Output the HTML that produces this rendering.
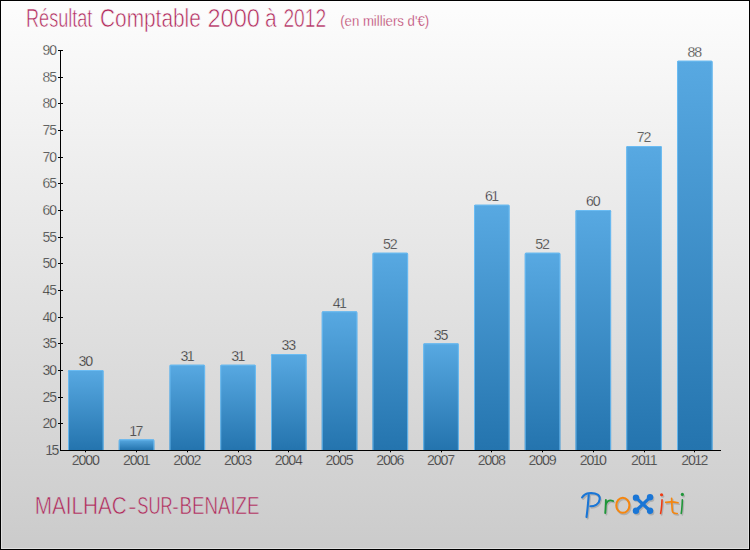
<!DOCTYPE html>
<html><head><meta charset="utf-8">
<style>
html,body{margin:0;padding:0;}
body{width:750px;height:550px;overflow:hidden;}
svg{display:block;}
text{font-family:"Liberation Sans",sans-serif;}
.yl{font-size:14px;fill:#202020;}
.vl{font-size:14.2px;fill:#202020;}
.xl{font-size:14.2px;fill:#202020;}
.t{font-size:25px;fill:#b0285a;stroke:#fbfbfb;stroke-width:0.6px;}
.st{font-size:14px;fill:#b42d5c;stroke:#fbfbfb;stroke-width:0.3px;}
.city{font-size:24.5px;fill:#b0285a;stroke:#cfcfcf;stroke-width:0.6px;}
</style></head>
<body>
<svg width="750" height="550" viewBox="0 0 750 550">
<defs>
<linearGradient id="pg" x1="0" y1="0" x2="0" y2="1">
<stop offset="0" stop-color="#fdfdfd"/>
<stop offset="1" stop-color="#cbcbcb"/>
</linearGradient>
<linearGradient id="bg" x1="0" y1="0" x2="0" y2="1">
<stop offset="0" stop-color="#58a9e2"/>
<stop offset="1" stop-color="#2474ae"/>
</linearGradient>
</defs>
<rect x="0" y="0" width="750" height="550" fill="url(#pg)"/>
<rect x="1.5" y="1.5" width="747" height="547" fill="none" stroke="#fff" stroke-opacity="0.4" stroke-width="1"/>
<rect x="0.5" y="0.5" width="749" height="549" fill="none" stroke="#000" stroke-width="1"/>
<text x="26.06" y="27" class="t" textLength="66.24" lengthAdjust="spacingAndGlyphs">Résultat</text>
<text x="99.97" y="27" class="t" textLength="100.89" lengthAdjust="spacingAndGlyphs">Comptable</text>
<text x="207.46" y="27" class="t" textLength="52.53" lengthAdjust="spacingAndGlyphs">2000</text>
<text x="265.06" y="27" class="t" textLength="11.66" lengthAdjust="spacingAndGlyphs">à</text>
<text x="283.43" y="27" class="t" textLength="42.75" lengthAdjust="spacingAndGlyphs">2012</text>
<text x="340.16" y="26" class="st" textLength="89.00" lengthAdjust="spacingAndGlyphs">(en milliers d'€)</text>
<line x1="58" y1="423.5" x2="63" y2="423.5" stroke="#000" stroke-width="1"/>
<line x1="58" y1="397.5" x2="63" y2="397.5" stroke="#000" stroke-width="1"/>
<line x1="58" y1="370.5" x2="63" y2="370.5" stroke="#000" stroke-width="1"/>
<line x1="58" y1="343.5" x2="63" y2="343.5" stroke="#000" stroke-width="1"/>
<line x1="58" y1="317.5" x2="63" y2="317.5" stroke="#000" stroke-width="1"/>
<line x1="58" y1="290.5" x2="63" y2="290.5" stroke="#000" stroke-width="1"/>
<line x1="58" y1="263.5" x2="63" y2="263.5" stroke="#000" stroke-width="1"/>
<line x1="58" y1="237.5" x2="63" y2="237.5" stroke="#000" stroke-width="1"/>
<line x1="58" y1="210.5" x2="63" y2="210.5" stroke="#000" stroke-width="1"/>
<line x1="58" y1="183.5" x2="63" y2="183.5" stroke="#000" stroke-width="1"/>
<line x1="58" y1="157.5" x2="63" y2="157.5" stroke="#000" stroke-width="1"/>
<line x1="58" y1="130.5" x2="63" y2="130.5" stroke="#000" stroke-width="1"/>
<line x1="58" y1="103.5" x2="63" y2="103.5" stroke="#000" stroke-width="1"/>
<line x1="58" y1="77.5" x2="63" y2="77.5" stroke="#000" stroke-width="1"/>
<line x1="58" y1="50.5" x2="63" y2="50.5" stroke="#000" stroke-width="1"/>
<text x="46.40 53.20" y="428.3" class="yl" text-anchor="middle" stroke="#d7d7d7" stroke-width="0.35">20</text>
<text x="46.40 53.20" y="402.3" class="yl" text-anchor="middle" stroke="#d9d9d9" stroke-width="0.35">25</text>
<text x="46.40 53.20" y="375.3" class="yl" text-anchor="middle" stroke="#dbdbdb" stroke-width="0.35">30</text>
<text x="46.40 53.20" y="348.3" class="yl" text-anchor="middle" stroke="#dedede" stroke-width="0.35">35</text>
<text x="46.40 53.20" y="322.3" class="yl" text-anchor="middle" stroke="#e0e0e0" stroke-width="0.35">40</text>
<text x="46.40 53.20" y="295.3" class="yl" text-anchor="middle" stroke="#e3e3e3" stroke-width="0.35">45</text>
<text x="46.40 53.20" y="268.3" class="yl" text-anchor="middle" stroke="#e5e5e5" stroke-width="0.35">50</text>
<text x="46.40 53.20" y="242.3" class="yl" text-anchor="middle" stroke="#e7e7e7" stroke-width="0.35">55</text>
<text x="46.40 53.20" y="215.3" class="yl" text-anchor="middle" stroke="#eaeaea" stroke-width="0.35">60</text>
<text x="46.40 53.20" y="188.3" class="yl" text-anchor="middle" stroke="#ececec" stroke-width="0.35">65</text>
<text x="46.40 53.20" y="162.3" class="yl" text-anchor="middle" stroke="#efefef" stroke-width="0.35">70</text>
<text x="46.40 53.20" y="135.3" class="yl" text-anchor="middle" stroke="#f1f1f1" stroke-width="0.35">75</text>
<text x="46.40 53.20" y="108.3" class="yl" text-anchor="middle" stroke="#f4f4f4" stroke-width="0.35">80</text>
<text x="46.40 53.20" y="82.3" class="yl" text-anchor="middle" stroke="#f6f6f6" stroke-width="0.35">85</text>
<text x="46.40 53.20" y="55.3" class="yl" text-anchor="middle" stroke="#f8f8f8" stroke-width="0.35">90</text>
<text x="49.20 55.40" y="454.6" class="yl" text-anchor="middle" stroke="#d4d4d4" stroke-width="0.35">15</text>
<path d="M68.00 450 V371.30 Q68.00 370.00 69.30 370.00 H102.30 Q103.60 370.00 103.60 371.30 V450 Z" fill="url(#bg)"/>
<path d="M68.50 450 V371.30 Q68.50 370.50 69.30 370.50 H102.30 Q103.10 370.50 103.10 371.30 V450" fill="none" stroke="#6ec0f6" stroke-width="1" opacity="0.85"/>
<text x="82.40 89.20" y="366.2" class="vl" text-anchor="middle" stroke="#dcdcdc" stroke-width="0.35">30</text>
<line x1="85.5" y1="450" x2="85.5" y2="452.3" stroke="#000" stroke-width="1"/>
<text x="75.60 82.40 89.20 96.00" y="465.0" class="xl" text-anchor="middle" stroke="#d3d3d3" stroke-width="0.35">2000</text>
<path d="M118.75 450 V440.63 Q118.75 439.33 120.05 439.33 H153.05 Q154.35 439.33 154.35 440.63 V450 Z" fill="url(#bg)"/>
<path d="M119.25 450 V440.63 Q119.25 439.83 120.05 439.83 H153.05 Q153.85 439.83 153.85 440.63 V450" fill="none" stroke="#6ec0f6" stroke-width="1" opacity="0.85"/>
<text x="133.15 139.35" y="435.5" class="vl" text-anchor="middle" stroke="#d6d6d6" stroke-width="0.35">17</text>
<line x1="136.5" y1="450" x2="136.5" y2="452.3" stroke="#000" stroke-width="1"/>
<text x="126.95 133.75 140.55 146.75" y="465.0" class="xl" text-anchor="middle" stroke="#d3d3d3" stroke-width="0.35">2001</text>
<path d="M169.50 450 V365.97 Q169.50 364.67 170.80 364.67 H203.80 Q205.10 364.67 205.10 365.97 V450 Z" fill="url(#bg)"/>
<path d="M170.00 450 V365.97 Q170.00 365.17 170.80 365.17 H203.80 Q204.60 365.17 204.60 365.97 V450" fill="none" stroke="#6ec0f6" stroke-width="1" opacity="0.85"/>
<text x="184.50 190.70" y="360.9" class="vl" text-anchor="middle" stroke="#dddddd" stroke-width="0.35">31</text>
<line x1="187.5" y1="450" x2="187.5" y2="452.3" stroke="#000" stroke-width="1"/>
<text x="177.10 183.90 190.70 197.50" y="465.0" class="xl" text-anchor="middle" stroke="#d3d3d3" stroke-width="0.35">2002</text>
<path d="M220.25 450 V365.97 Q220.25 364.67 221.55 364.67 H254.55 Q255.85 364.67 255.85 365.97 V450 Z" fill="url(#bg)"/>
<path d="M220.75 450 V365.97 Q220.75 365.17 221.55 365.17 H254.55 Q255.35 365.17 255.35 365.97 V450" fill="none" stroke="#6ec0f6" stroke-width="1" opacity="0.85"/>
<text x="235.25 241.45" y="360.9" class="vl" text-anchor="middle" stroke="#dddddd" stroke-width="0.35">31</text>
<line x1="238.5" y1="450" x2="238.5" y2="452.3" stroke="#000" stroke-width="1"/>
<text x="227.85 234.65 241.45 248.25" y="465.0" class="xl" text-anchor="middle" stroke="#d3d3d3" stroke-width="0.35">2003</text>
<path d="M271.00 450 V355.30 Q271.00 354.00 272.30 354.00 H305.30 Q306.60 354.00 306.60 355.30 V450 Z" fill="url(#bg)"/>
<path d="M271.50 450 V355.30 Q271.50 354.50 272.30 354.50 H305.30 Q306.10 354.50 306.10 355.30 V450" fill="none" stroke="#6ec0f6" stroke-width="1" opacity="0.85"/>
<text x="285.40 292.20" y="350.2" class="vl" text-anchor="middle" stroke="#dedede" stroke-width="0.35">33</text>
<line x1="288.5" y1="450" x2="288.5" y2="452.3" stroke="#000" stroke-width="1"/>
<text x="278.60 285.40 292.20 299.00" y="465.0" class="xl" text-anchor="middle" stroke="#d3d3d3" stroke-width="0.35">2004</text>
<path d="M321.75 450 V312.63 Q321.75 311.33 323.05 311.33 H356.05 Q357.35 311.33 357.35 312.63 V450 Z" fill="url(#bg)"/>
<path d="M322.25 450 V312.63 Q322.25 311.83 323.05 311.83 H356.05 Q356.85 311.83 356.85 312.63 V450" fill="none" stroke="#6ec0f6" stroke-width="1" opacity="0.85"/>
<text x="336.75 342.95" y="307.5" class="vl" text-anchor="middle" stroke="#e1e1e1" stroke-width="0.35">41</text>
<line x1="339.5" y1="450" x2="339.5" y2="452.3" stroke="#000" stroke-width="1"/>
<text x="329.35 336.15 342.95 349.75" y="465.0" class="xl" text-anchor="middle" stroke="#d3d3d3" stroke-width="0.35">2005</text>
<path d="M372.50 450 V253.97 Q372.50 252.67 373.80 252.67 H406.80 Q408.10 252.67 408.10 253.97 V450 Z" fill="url(#bg)"/>
<path d="M373.00 450 V253.97 Q373.00 253.17 373.80 253.17 H406.80 Q407.60 253.17 407.60 253.97 V450" fill="none" stroke="#6ec0f6" stroke-width="1" opacity="0.85"/>
<text x="386.90 393.70" y="248.9" class="vl" text-anchor="middle" stroke="#e7e7e7" stroke-width="0.35">52</text>
<line x1="390.5" y1="450" x2="390.5" y2="452.3" stroke="#000" stroke-width="1"/>
<text x="380.10 386.90 393.70 400.50" y="465.0" class="xl" text-anchor="middle" stroke="#d3d3d3" stroke-width="0.35">2006</text>
<path d="M423.25 450 V344.63 Q423.25 343.33 424.55 343.33 H457.55 Q458.85 343.33 458.85 344.63 V450 Z" fill="url(#bg)"/>
<path d="M423.75 450 V344.63 Q423.75 343.83 424.55 343.83 H457.55 Q458.35 343.83 458.35 344.63 V450" fill="none" stroke="#6ec0f6" stroke-width="1" opacity="0.85"/>
<text x="437.65 444.45" y="339.5" class="vl" text-anchor="middle" stroke="#dfdfdf" stroke-width="0.35">35</text>
<line x1="441.5" y1="450" x2="441.5" y2="452.3" stroke="#000" stroke-width="1"/>
<text x="430.85 437.65 444.45 451.25" y="465.0" class="xl" text-anchor="middle" stroke="#d3d3d3" stroke-width="0.35">2007</text>
<path d="M474.00 450 V205.97 Q474.00 204.67 475.30 204.67 H508.30 Q509.60 204.67 509.60 205.97 V450 Z" fill="url(#bg)"/>
<path d="M474.50 450 V205.97 Q474.50 205.17 475.30 205.17 H508.30 Q509.10 205.17 509.10 205.97 V450" fill="none" stroke="#6ec0f6" stroke-width="1" opacity="0.85"/>
<text x="489.00 495.20" y="200.9" class="vl" text-anchor="middle" stroke="#ebebeb" stroke-width="0.35">61</text>
<line x1="491.5" y1="450" x2="491.5" y2="452.3" stroke="#000" stroke-width="1"/>
<text x="481.60 488.40 495.20 502.00" y="465.0" class="xl" text-anchor="middle" stroke="#d3d3d3" stroke-width="0.35">2008</text>
<path d="M524.75 450 V253.97 Q524.75 252.67 526.05 252.67 H559.05 Q560.35 252.67 560.35 253.97 V450 Z" fill="url(#bg)"/>
<path d="M525.25 450 V253.97 Q525.25 253.17 526.05 253.17 H559.05 Q559.85 253.17 559.85 253.97 V450" fill="none" stroke="#6ec0f6" stroke-width="1" opacity="0.85"/>
<text x="539.15 545.95" y="248.9" class="vl" text-anchor="middle" stroke="#e7e7e7" stroke-width="0.35">52</text>
<line x1="542.5" y1="450" x2="542.5" y2="452.3" stroke="#000" stroke-width="1"/>
<text x="532.35 539.15 545.95 552.75" y="465.0" class="xl" text-anchor="middle" stroke="#d3d3d3" stroke-width="0.35">2009</text>
<path d="M575.50 450 V211.30 Q575.50 210.00 576.80 210.00 H609.80 Q611.10 210.00 611.10 211.30 V450 Z" fill="url(#bg)"/>
<path d="M576.00 450 V211.30 Q576.00 210.50 576.80 210.50 H609.80 Q610.60 210.50 610.60 211.30 V450" fill="none" stroke="#6ec0f6" stroke-width="1" opacity="0.85"/>
<text x="589.90 596.70" y="206.2" class="vl" text-anchor="middle" stroke="#ebebeb" stroke-width="0.35">60</text>
<line x1="593.5" y1="450" x2="593.5" y2="452.3" stroke="#000" stroke-width="1"/>
<text x="583.70 590.50 596.70 602.90" y="465.0" class="xl" text-anchor="middle" stroke="#d3d3d3" stroke-width="0.35">2010</text>
<path d="M626.25 450 V147.30 Q626.25 146.00 627.55 146.00 H660.55 Q661.85 146.00 661.85 147.30 V450 Z" fill="url(#bg)"/>
<path d="M626.75 450 V147.30 Q626.75 146.50 627.55 146.50 H660.55 Q661.35 146.50 661.35 147.30 V450" fill="none" stroke="#6ec0f6" stroke-width="1" opacity="0.85"/>
<text x="640.65 647.45" y="142.2" class="vl" text-anchor="middle" stroke="#f1f1f1" stroke-width="0.35">72</text>
<line x1="644.5" y1="450" x2="644.5" y2="452.3" stroke="#000" stroke-width="1"/>
<text x="635.05 641.85 648.05 653.65" y="465.0" class="xl" text-anchor="middle" stroke="#d3d3d3" stroke-width="0.35">2011</text>
<path d="M677.00 450 V61.97 Q677.00 60.67 678.30 60.67 H711.30 Q712.60 60.67 712.60 61.97 V450 Z" fill="url(#bg)"/>
<path d="M677.50 450 V61.97 Q677.50 61.17 678.30 61.17 H711.30 Q712.10 61.17 712.10 61.97 V450" fill="none" stroke="#6ec0f6" stroke-width="1" opacity="0.85"/>
<text x="691.40 698.20" y="56.9" class="vl" text-anchor="middle" stroke="#f8f8f8" stroke-width="0.35">88</text>
<line x1="694.5" y1="450" x2="694.5" y2="452.3" stroke="#000" stroke-width="1"/>
<text x="685.20 692.00 698.20 704.40" y="465.0" class="xl" text-anchor="middle" stroke="#d3d3d3" stroke-width="0.35">2012</text>
<line x1="60.5" y1="50" x2="60.5" y2="451" stroke="#000" stroke-width="1"/>
<line x1="60" y1="450.5" x2="721" y2="450.5" stroke="#000" stroke-width="1"/>
<text x="34.71" y="514" class="city" textLength="92.07" lengthAdjust="spacingAndGlyphs">MAILHAC</text>
<text x="128.13" y="514" class="city" textLength="8.72" lengthAdjust="spacingAndGlyphs">-</text>
<text x="137.32" y="514" class="city" textLength="35.26" lengthAdjust="spacingAndGlyphs">SUR</text>
<text x="172.20" y="514" class="city" textLength="6.54" lengthAdjust="spacingAndGlyphs">-</text>
<text x="179.47" y="514" class="city" textLength="80.07" lengthAdjust="spacingAndGlyphs">BENAIZE</text>
<g transform="translate(575,485) scale(0.16)">
<g transform="translate(7,9)" fill="none" opacity="0.15" stroke-linecap="round" stroke-linejoin="round">
<g stroke="#000" stroke-width="13"><path d="M44 78 C55 62 68 54 82 52 C100 50 125 50 142 60 C160 72 160 102 135 122 C122 130 108 133 96 133"/><path d="M86 62 C82 110 78 160 72 200"/></g>
<g stroke="#000" stroke-width="12"><path d="M193 94 C193 125 191 150 189 175"/><path d="M193 118 C200 104 210 96 220 96 C228 96 234 98 238 100"/></g>
<g stroke="#000" stroke-width="12.5"><ellipse cx="299" cy="127" rx="41" ry="47"/></g>
<g stroke="#000" stroke-width="20"><path d="M381 79 L469 161"/><path d="M469 77 L381 161"/></g>
<g stroke="#000" stroke-width="10"><path d="M544 92 C543 125 540 155 535 178"/></g>
<g stroke="#000" stroke-width="10.5"><path d="M604 83 C605 115 606 150 609 165 C612 177 625 179 639 178"/><path d="M567 109 C590 104 615 104 644 111"/></g>
<g stroke="#000" stroke-width="10"><path d="M671 92 C670 125 668 155 664 178"/></g>
<circle cx="381" cy="79" r="20" fill="#000" stroke="none"/>
<circle cx="469" cy="77" r="20" fill="#000" stroke="none"/>
<circle cx="381" cy="161" r="20" fill="#000" stroke="none"/>
<circle cx="469" cy="161" r="20" fill="#000" stroke="none"/>
<circle cx="541" cy="61" r="10" fill="#000" stroke="none"/>
<circle cx="671" cy="59" r="10" fill="#000" stroke="none"/>
</g>
<g fill="none" stroke-linecap="round" stroke-linejoin="round"><g stroke="#1a76d6" stroke-width="13"><path d="M44 78 C55 62 68 54 82 52 C100 50 125 50 142 60 C160 72 160 102 135 122 C122 130 108 133 96 133"/><path d="M86 62 C82 110 78 160 72 200"/></g>
<g stroke="#1f9639" stroke-width="12"><path d="M193 94 C193 125 191 150 189 175"/><path d="M193 118 C200 104 210 96 220 96 C228 96 234 98 238 100"/></g>
<g stroke="#f5860f" stroke-width="12.5"><ellipse cx="299" cy="127" rx="41" ry="47"/></g>
<g stroke="#1a76d6" stroke-width="20"><path d="M381 79 L469 161"/><path d="M469 77 L381 161"/></g>
<g stroke="#ee3a12" stroke-width="10"><path d="M544 92 C543 125 540 155 535 178"/></g>
<g stroke="#f5860f" stroke-width="10.5"><path d="M604 83 C605 115 606 150 609 165 C612 177 625 179 639 178"/><path d="M567 109 C590 104 615 104 644 111"/></g>
<g stroke="#1f9639" stroke-width="10"><path d="M671 92 C670 125 668 155 664 178"/></g>
<circle cx="381" cy="79" r="20" fill="#1a76d6" stroke="none"/>
<circle cx="469" cy="77" r="20" fill="#1a76d6" stroke="none"/>
<circle cx="381" cy="161" r="20" fill="#1a76d6" stroke="none"/>
<circle cx="469" cy="161" r="20" fill="#1a76d6" stroke="none"/>
<circle cx="541" cy="61" r="10" fill="#ee3a12" stroke="none"/>
<circle cx="671" cy="59" r="10" fill="#1f9639" stroke="none"/></g>
</g>
</svg>
</body></html>
